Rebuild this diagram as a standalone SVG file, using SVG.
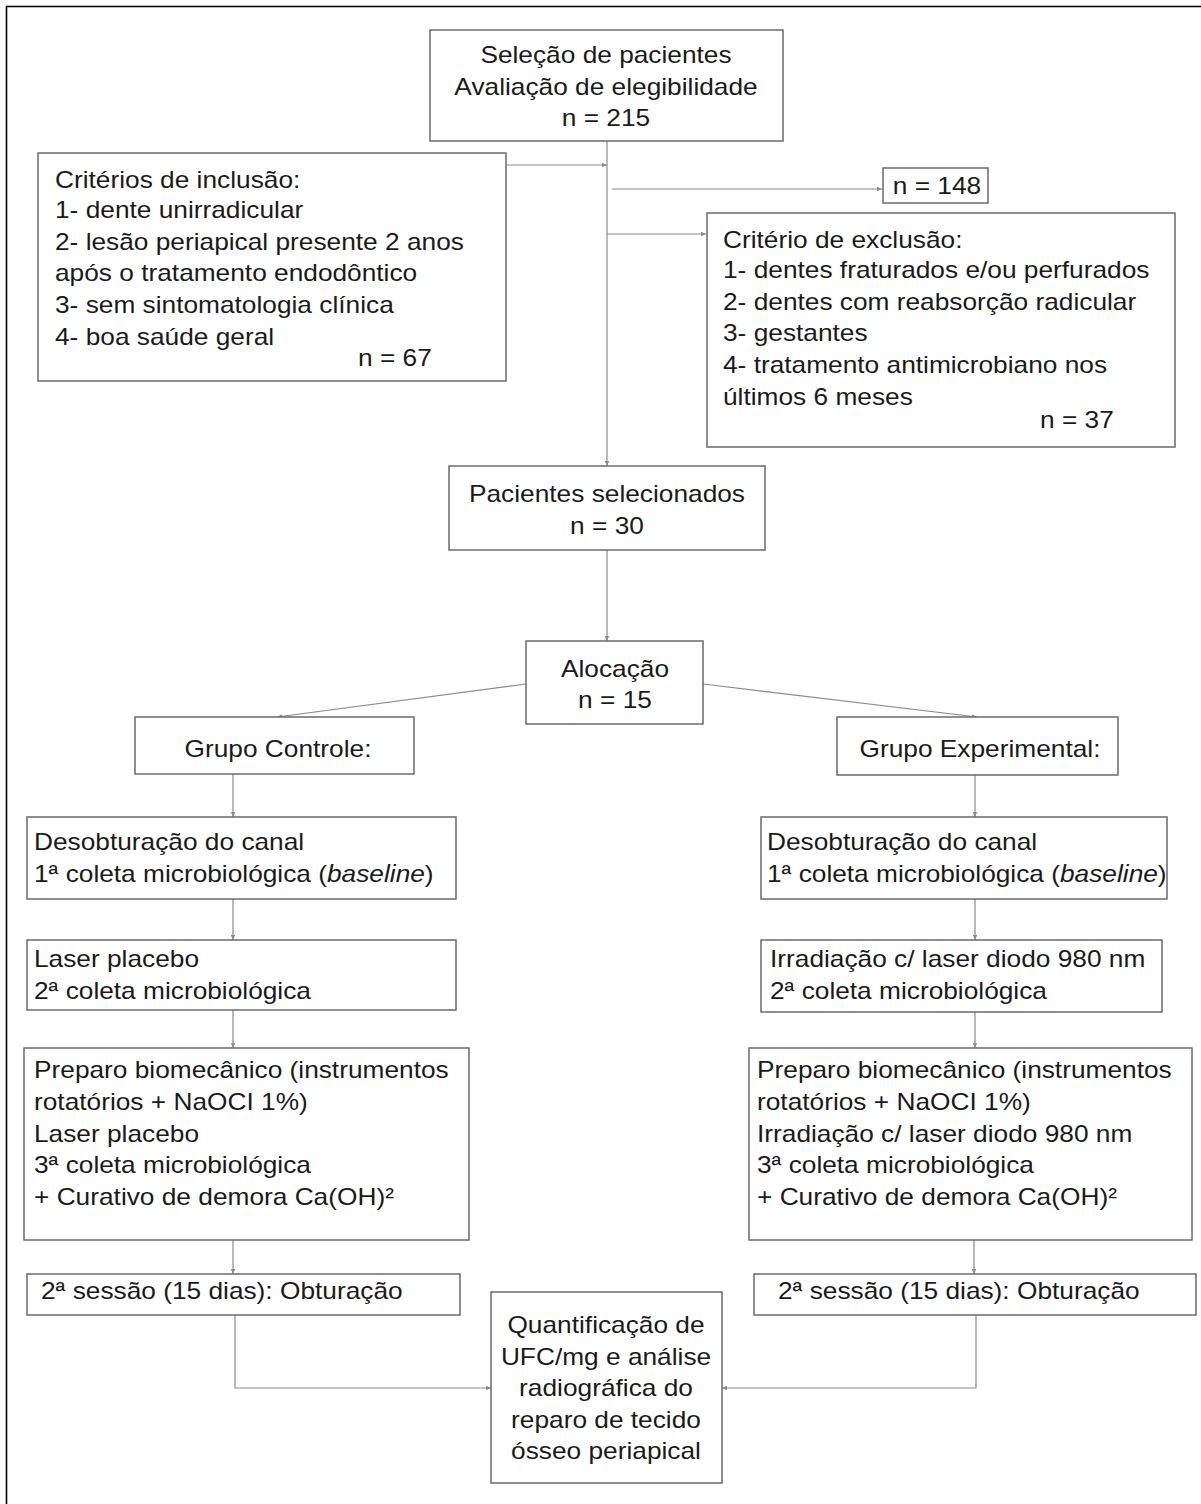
<svg xmlns="http://www.w3.org/2000/svg" width="1201" height="1504" viewBox="0 0 1201 1504">
<style>
.box{fill:#fff;stroke:#6a6a6a;stroke-width:1.5}
.t{font-family:"Liberation Sans",Arial,sans-serif;font-size:24px;fill:#1a1a1a}
.c{text-anchor:middle}
.ln{fill:none;stroke:#8a8a8a;stroke-width:1.2}
</style>
<defs>
<marker id="ah" markerWidth="6" markerHeight="6" refX="5" refY="3" orient="auto" markerUnits="userSpaceOnUse">
<path d="M0,0.8 L5,3 L0,5.2 Z" fill="#8a8a8a"/>
</marker>
</defs>
<rect x="0" y="0" width="1201" height="1504" fill="#fff"/>
<path d="M6.5,1504 V6.5 H1201" fill="none" stroke="#000" stroke-width="1.6"/>

<g id="connectors">
<path class="ln" d="M607,141 V466" marker-end="url(#ah)"/>
<path class="ln" d="M506,165 H607" marker-end="url(#ah)"/>
<path class="ln" d="M612,189 H882" marker-end="url(#ah)"/>
<path class="ln" d="M607,234 H706" marker-end="url(#ah)"/>
<path class="ln" d="M607,550 V641" marker-end="url(#ah)"/>
<path class="ln" d="M526,684 L277,717" marker-end="url(#ah)"/>
<path class="ln" d="M703,684 L977,717" marker-end="url(#ah)"/>
<path class="ln" d="M233,774 V817" marker-end="url(#ah)"/>
<path class="ln" d="M233,899 V940" marker-end="url(#ah)"/>
<path class="ln" d="M233,1010 V1048" marker-end="url(#ah)"/>
<path class="ln" d="M233,1240 V1274" marker-end="url(#ah)"/>
<path class="ln" d="M235,1315 V1388 H491" marker-end="url(#ah)"/>
<path class="ln" d="M975,775 V817" marker-end="url(#ah)"/>
<path class="ln" d="M975,899 V940" marker-end="url(#ah)"/>
<path class="ln" d="M975,1012 V1048" marker-end="url(#ah)"/>
<path class="ln" d="M974,1240 V1274" marker-end="url(#ah)"/>
<path class="ln" d="M976,1315 V1388 H722" marker-end="url(#ah)"/>
</g>

<g id="selecao">
<rect class="box" x="430" y="30" width="353" height="111"/>
<text class="t c" transform="translate(606,63) scale(1.095,1)">Seleção de pacientes</text>
<text class="t c" transform="translate(606,95) scale(1.095,1)">Avaliação de elegibilidade</text>
<text class="t c" transform="translate(606,126) scale(1.095,1)">n = 215</text>
</g>

<g id="inclusao">
<rect class="box" x="38" y="153" width="468" height="228"/>
<text class="t" transform="translate(55,188) scale(1.095,1)">Critérios de inclusão:</text>
<text class="t" transform="translate(55,218) scale(1.095,1)">1- dente unirradicular</text>
<text class="t" transform="translate(55,250) scale(1.095,1)">2- lesão periapical presente 2 anos</text>
<text class="t" transform="translate(55,281) scale(1.095,1)">após o tratamento endodôntico</text>
<text class="t" transform="translate(55,313) scale(1.095,1)">3- sem sintomatologia clínica</text>
<text class="t" transform="translate(55,345) scale(1.095,1)">4- boa saúde geral</text>
<text class="t" transform="translate(358,366) scale(1.095,1)">n = 67</text>
</g>

<g id="n148">
<rect class="box" x="883" y="168" width="105" height="35"/>
<text class="t c" transform="translate(937,194) scale(1.095,1)">n = 148</text>
</g>

<g id="exclusao">
<rect class="box" x="707" y="213" width="468" height="234"/>
<text class="t" transform="translate(723,248) scale(1.095,1)">Critério de exclusão:</text>
<text class="t" transform="translate(723,278) scale(1.095,1)">1- dentes fraturados e/ou perfurados</text>
<text class="t" transform="translate(723,310) scale(1.095,1)">2- dentes com reabsorção radicular</text>
<text class="t" transform="translate(723,341) scale(1.095,1)">3- gestantes</text>
<text class="t" transform="translate(723,373) scale(1.095,1)">4- tratamento antimicrobiano nos</text>
<text class="t" transform="translate(723,405) scale(1.095,1)">últimos 6 meses</text>
<text class="t" transform="translate(1040,428) scale(1.095,1)">n = 37</text>
</g>

<g id="selecionados">
<rect class="box" x="449" y="466" width="316" height="84"/>
<text class="t c" transform="translate(607,502) scale(1.095,1)">Pacientes selecionados</text>
<text class="t c" transform="translate(607,534) scale(1.095,1)">n = 30</text>
</g>

<g id="alocacao">
<rect class="box" x="526" y="641" width="177" height="83"/>
<text class="t c" transform="translate(615,677) scale(1.095,1)">Alocação</text>
<text class="t c" transform="translate(615,708) scale(1.095,1)">n = 15</text>
</g>

<g id="grupo-controle">
<rect class="box" x="135" y="717" width="279" height="57"/>
<text class="t c" transform="translate(278,757) scale(1.095,1)">Grupo Controle:</text>
</g>

<g id="grupo-experimental">
<rect class="box" x="837" y="717" width="281" height="58"/>
<text class="t c" transform="translate(980,757) scale(1.095,1)">Grupo Experimental:</text>
</g>

<g id="c-desobturacao">
<rect class="box" x="27" y="817" width="429" height="82"/>
<text class="t" transform="translate(34,850) scale(1.095,1)">Desobturação do canal</text>
<text class="t" transform="translate(34,882) scale(1.095,1)">1ª coleta microbiológica (<tspan font-style="italic">baseline</tspan>)</text>
</g>

<g id="c-laser">
<rect class="box" x="27" y="940" width="429" height="70"/>
<text class="t" transform="translate(34,967) scale(1.095,1)">Laser placebo</text>
<text class="t" transform="translate(34,999) scale(1.095,1)">2ª coleta microbiológica</text>
</g>

<g id="c-preparo">
<rect class="box" x="24" y="1048" width="445" height="192"/>
<text class="t" transform="translate(34,1078) scale(1.095,1)">Preparo biomecânico (instrumentos</text>
<text class="t" transform="translate(34,1110) scale(1.095,1)">rotatórios + NaOCI 1%)</text>
<text class="t" transform="translate(34,1142) scale(1.095,1)">Laser placebo</text>
<text class="t" transform="translate(34,1173) scale(1.095,1)">3ª coleta microbiológica</text>
<text class="t" transform="translate(34,1205) scale(1.095,1)">+ Curativo de demora Ca(OH)²</text>
</g>

<g id="c-sessao">
<rect class="box" x="27" y="1274" width="433" height="41"/>
<text class="t" transform="translate(41,1299) scale(1.095,1)">2ª sessão (15 dias): Obturação</text>
</g>

<g id="e-desobturacao">
<rect class="box" x="761" y="817" width="406" height="82"/>
<text class="t" transform="translate(767,850) scale(1.095,1)">Desobturação do canal</text>
<text class="t" transform="translate(767,882) scale(1.095,1)">1ª coleta microbiológica (<tspan font-style="italic">baseline</tspan>)</text>
</g>

<g id="e-irradiacao">
<rect class="box" x="761" y="940" width="401" height="72"/>
<text class="t" transform="translate(770,967) scale(1.095,1)">Irradiação c/ laser diodo 980 nm</text>
<text class="t" transform="translate(770,999) scale(1.095,1)">2ª coleta microbiológica</text>
</g>

<g id="e-preparo">
<rect class="box" x="749" y="1048" width="443" height="192"/>
<text class="t" transform="translate(757,1078) scale(1.095,1)">Preparo biomecânico (instrumentos</text>
<text class="t" transform="translate(757,1110) scale(1.095,1)">rotatórios + NaOCI 1%)</text>
<text class="t" transform="translate(757,1142) scale(1.095,1)">Irradiação c/ laser diodo 980 nm</text>
<text class="t" transform="translate(757,1173) scale(1.095,1)">3ª coleta microbiológica</text>
<text class="t" transform="translate(757,1205) scale(1.095,1)">+ Curativo de demora Ca(OH)²</text>
</g>

<g id="e-sessao">
<rect class="box" x="754" y="1274" width="442" height="41"/>
<text class="t" transform="translate(778,1299) scale(1.095,1)">2ª sessão (15 dias): Obturação</text>
</g>

<g id="quantificacao">
<rect class="box" x="491" y="1292" width="231" height="191"/>
<text class="t c" transform="translate(606,1333) scale(1.095,1)">Quantificação de</text>
<text class="t c" transform="translate(606,1365) scale(1.095,1)">UFC/mg e análise</text>
<text class="t c" transform="translate(606,1396) scale(1.095,1)">radiográfica do</text>
<text class="t c" transform="translate(606,1428) scale(1.095,1)">reparo de tecido</text>
<text class="t c" transform="translate(606,1459) scale(1.095,1)">ósseo periapical</text>
</g>
</svg>
